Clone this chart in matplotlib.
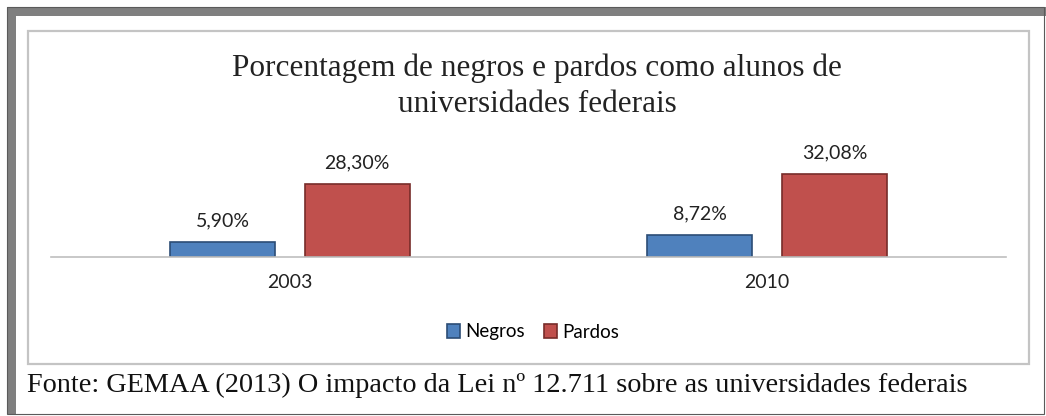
import matplotlib.pyplot as plt
from matplotlib.patches import Rectangle
import numpy as np

W, H = 1046, 416

years = ['2003', '2010']
negros = [5.90, 8.72]
pardos = [28.30, 32.08]
title = 'Porcentagem de negros e pardos como alunos de\nuniversidades federais'
source = 'Fonte: GEMAA (2013) O impacto da Lei nº 12.711 sobre as universidades federais'

blue, blue_edge = '#4f81bd', '#2c4d75'
red, red_edge = '#c0504d', '#772c2a'
label_font = ['Lato', 'DejaVu Sans']
serif = ['Liberation Serif', 'DejaVu Serif']


def fx(px):
    return px / W


def fy(py):
    return 1 - py / H


fig = plt.figure(figsize=(W / 100, H / 100), dpi=100)
fig.patch.set_facecolor('white')

# outer frame (thick top/left, thin right/bottom)
fig.patches.append(Rectangle((fx(7), fy(16)), fx(1046 - 7), 9 / H, transform=fig.transFigure,
                             facecolor='#7f7f7f', edgecolor='none', zorder=-2))
fig.patches.append(Rectangle((fx(7), fy(414)), 9 / W, (414 - 7) / H, transform=fig.transFigure,
                             facecolor='#7f7f7f', edgecolor='none', zorder=-2))
fig.patches.append(Rectangle((fx(7), fy(414)), fx(1044 - 7), (414 - 7) / H, transform=fig.transFigure,
                             facecolor='none', edgecolor='#5a5a5a', linewidth=0.8, zorder=-2))

# chart box
fig.patches.append(Rectangle((fx(28), fy(364)), fx(1029 - 28), (364 - 31) / H, transform=fig.transFigure,
                             facecolor='white', edgecolor='#c4c4c4', linewidth=1.6, zorder=-1))

# plot area: baseline at y=257 px, 2.58 px per percent
ymax = 40
ax = fig.add_axes([fx(51), fy(257), fx(1006 - 51), ymax * 2.58 / H])
ax.set_facecolor('none')
x = np.arange(len(years))
bw = 0.22
off = 0.141
b1 = ax.bar(x - off, negros, bw, color=blue, edgecolor=blue_edge, linewidth=1.2, label='Negros')
b2 = ax.bar(x + off, pardos, bw, color=red, edgecolor=red_edge, linewidth=1.2, label='Pardos')
for bars in (b1, b2):
    for r in bars:
        v = r.get_height()
        ax.annotate(f'{v:.2f}%'.replace('.', ','), (r.get_x() + r.get_width() / 2, v),
                    xytext=(0, 9), textcoords='offset points', ha='center', va='bottom',
                    fontsize=14, family=label_font, color='#222222')
ax.set_xlim(-0.5, 1.5)
ax.set_ylim(0, ymax)
ax.set_yticks([])
ax.set_xticks(x)
ax.set_xticklabels(years, fontsize=14, family=label_font, color='#222222')
ax.tick_params(axis='x', length=0, pad=12)
for s in ['top', 'right', 'left']:
    ax.spines[s].set_visible(False)
ax.spines['bottom'].set_color('#bfbfbf')
ax.spines['bottom'].set_linewidth(1.2)

fig.legend(handles=[b1, b2], labels=['Negros', 'Pardos'], loc='center', bbox_to_anchor=(fx(533), fy(332)),
           ncol=2, frameon=False, prop={'family': label_font, 'size': 13.5}, handlelength=0.7,
           handleheight=0.7, handletextpad=0.3, columnspacing=1.0)

fig.text(fx(537), fy(86), title, ha='center', va='center', fontsize=22.5, family=serif,
         color='#222222', linespacing=1.3)
fig.text(fx(27), fy(385), source, ha='left', va='center', fontsize=20.3, family=serif, color='#111111')

fig.savefig('out.png', dpi=100)
